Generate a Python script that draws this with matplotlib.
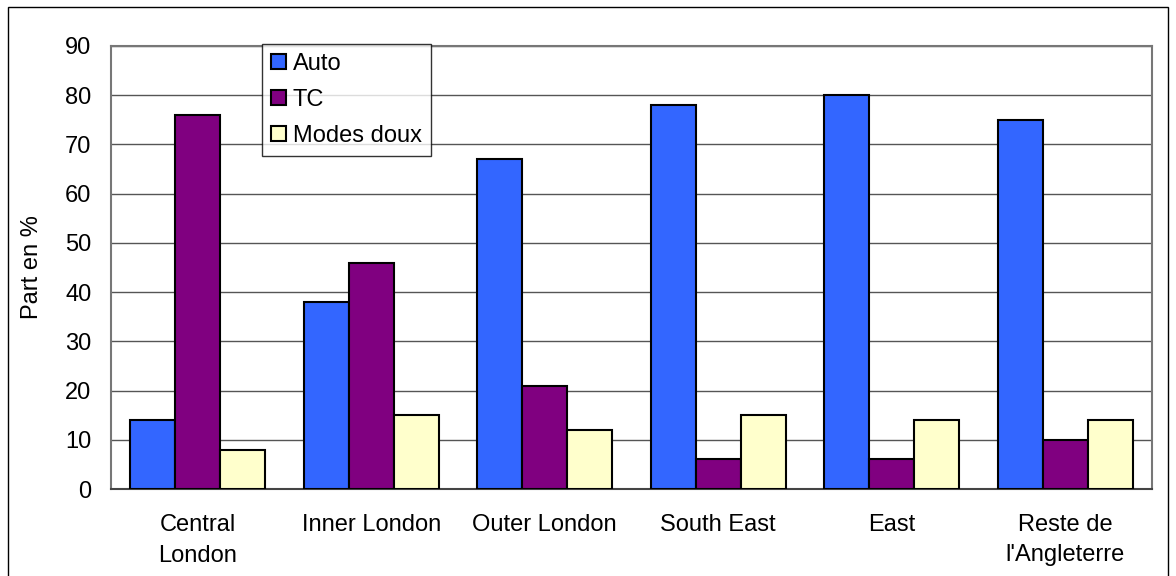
import matplotlib
matplotlib.use("Agg")
import matplotlib.pyplot as plt
import numpy as np
from matplotlib.patches import Rectangle

categories = ["Central\nLondon", "Inner London", "Outer London", "South East", "East", "Reste de\nl'Angleterre"]
auto = [14, 38, 67, 78, 80, 75]
tc = [76, 46, 21, 6, 6, 10]
doux = [8, 15, 12, 15, 14, 14]
series_names = ["Auto", "TC", "Modes doux"]
colors = ["#3366FF", "#800080", "#FFFFCC"]
yticks = [0, 10, 20, 30, 40, 50, 60, 70, 80, 90]

plt.rcParams['font.family'] = ['Liberation Sans', 'DejaVu Sans']
FS = 17

fig = plt.figure(figsize=(11.76, 5.76), dpi=100)
ax = fig.add_axes([111/1176, 1-489/576, (1152-111)/1176, (489-46)/576])

fig.patches.append(Rectangle((8/1176, -0.05), (1168-8)/1176, 1-7/576+0.05,
                             transform=fig.transFigure, fill=False,
                             edgecolor="black", linewidth=1.0))

x = np.arange(len(categories))
w = 0.26
for i, (vals, name, c) in enumerate(zip([auto, tc, doux], series_names, colors)):
    ax.bar(x + (i - 1) * w, vals, w, color=c, edgecolor="black", linewidth=1.5,
           label=name, zorder=3)

ax.set_xlim(-0.5, len(categories) - 0.5)
ax.set_ylim(0, 90)
ax.set_yticks(yticks)
ax.set_xticks(x)
ax.set_xticklabels(categories, fontsize=FS, linespacing=1.5)
ax.tick_params(axis='both', length=0, labelsize=FS)
ax.tick_params(axis='x', pad=18)
ax.tick_params(axis='y', pad=14)
ax.yaxis.grid(True, color="#555555", linewidth=1.0, zorder=0)
for s in ax.spines.values():
    s.set_color("#777777")
    s.set_linewidth(1.5)
ax.spines['bottom'].set_color("#444444")
ax.set_ylabel("Part en %", fontsize=FS, labelpad=16)

leg = ax.legend(loc="upper left", bbox_to_anchor=((262-111)/1041, 1.005),
                fontsize=FS, frameon=True, fancybox=False, edgecolor="black",
                borderpad=0.4, handlelength=0.6, handleheight=0.6,
                handletextpad=0.3, labelspacing=0.58, borderaxespad=0)
leg.get_frame().set_linewidth(1.0)

fig.savefig("out.png", dpi=100)
